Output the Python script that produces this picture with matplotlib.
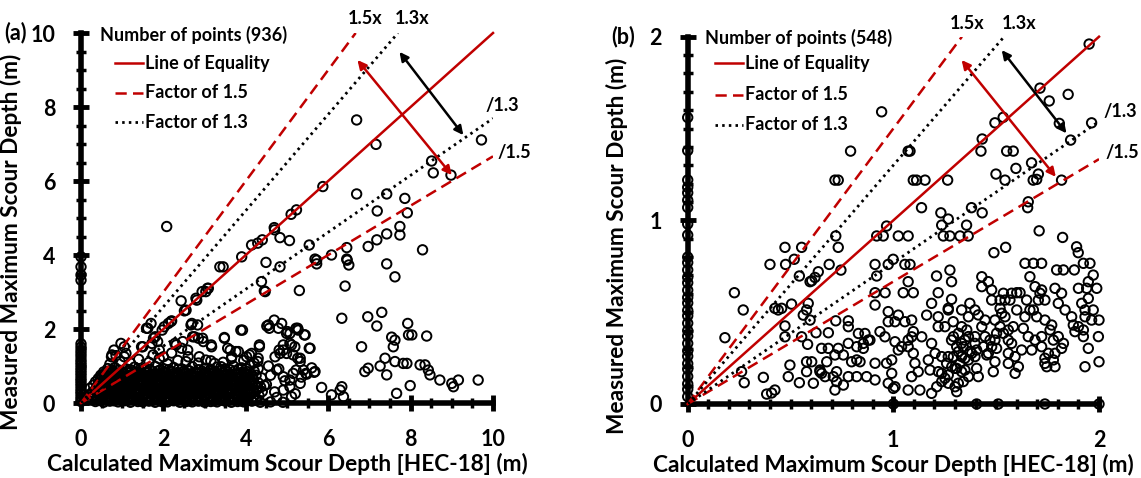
import matplotlib
matplotlib.use('Agg')
import matplotlib.pyplot as plt
from matplotlib.lines import Line2D
from matplotlib.ticker import MultipleLocator

plt.rcParams['font.family'] = ['Lato', 'DejaVu Sans']
plt.rcParams['font.weight'] = 'bold'

RED = '#C00000'

# ---------------- data: panel (a) ----------------
left_count = 936
left_axis_y = [0.04, 0.1, 0.17, 0.25, 0.31, 0.38, 0.46, 0.53, 0.6, 0.66, 0.74, 0.81, 0.88,
               0.95, 1.03, 1.1, 1.17, 1.26, 1.34, 1.42, 1.51, 1.6, 3.32, 3.46, 3.68, 3.95]

left_cluster = [
    (0.35, 0.04), (0.55, 0.02), (0.7, 0.05), (0.9, 0.03), (1.05, 0.06), (1.2, 0.02), (1.38, 0.04),
    (1.5, 0.03), (1.65, 0.05), (1.8, 0.02), (1.95, 0.04), (2.1, 0.03), (2.25, 0.06), (2.4, 0.02),
    (2.55, 0.04), (2.7, 0.03), (2.85, 0.05), (3.0, 0.02), (3.15, 0.04), (3.3, 0.03), (3.5, 0.05),
    (3.65, 0.02), (3.8, 0.04), (3.95, 0.03), (4.15, 0.05), (4.35, 0.02), (4.6, 0.03), (4.9, 0.02),
    (0.25, 0.12), (0.42, 0.14), (0.6, 0.11), (0.75, 0.15), (0.88, 0.12), (1.0, 0.13), (1.12, 0.1),
    (1.27, 0.14), (1.42, 0.12), (1.58, 0.15), (1.72, 0.11), (1.88, 0.13), (2.03, 0.14), (2.18, 0.1),
    (2.32, 0.13), (2.48, 0.15), (2.62, 0.11), (2.78, 0.14), (2.93, 0.12), (3.08, 0.15), (3.22, 0.11),
    (3.4, 0.13), (3.58, 0.14), (3.72, 0.1), (3.9, 0.13), (4.05, 0.15), (4.25, 0.12),
    (0.2, 0.22), (0.33, 0.2), (0.5, 0.23), (0.66, 0.19), (0.8, 0.24), (0.95, 0.21), (1.08, 0.23),
    (1.22, 0.2), (1.35, 0.24), (1.5, 0.21), (1.63, 0.19), (1.77, 0.23), (1.92, 0.2), (2.07, 0.24),
    (2.22, 0.21), (2.37, 0.19), (2.52, 0.23), (2.68, 0.2), (2.83, 0.24), (2.98, 0.21), (3.13, 0.19),
    (3.3, 0.23), (3.45, 0.2), (3.63, 0.24), (3.8, 0.21), (3.97, 0.19), (4.12, 0.23), (4.32, 0.2),
    (0.28, 0.3), (0.45, 0.32), (0.58, 0.28), (0.72, 0.31), (0.86, 0.33), (1.0, 0.29), (1.15, 0.32),
    (1.3, 0.28), (1.45, 0.31), (1.6, 0.33), (1.74, 0.29), (1.86, 0.32), (2.0, 0.3), (2.14, 0.33),
    (2.29, 0.28), (2.44, 0.31), (2.59, 0.33), (2.74, 0.29), (2.9, 0.32), (3.05, 0.28), (3.2, 0.31),
    (3.36, 0.33), (3.52, 0.29), (3.68, 0.32), (3.85, 0.3), (4.02, 0.33), (4.2, 0.29), (4.4, 0.31),
    (0.22, 0.4), (0.38, 0.38), (0.52, 0.41), (0.68, 0.37), (0.82, 0.42), (0.97, 0.39), (1.1, 0.37),
    (1.25, 0.41), (1.4, 0.38), (1.55, 0.42), (1.68, 0.39), (1.83, 0.37), (1.97, 0.41), (2.12, 0.38),
    (2.26, 0.42), (2.4, 0.39), (2.56, 0.37), (2.71, 0.41), (2.86, 0.38), (3.02, 0.42), (3.17, 0.39),
    (3.33, 0.37), (3.48, 0.41), (3.62, 0.38), (3.78, 0.42), (3.93, 0.39), (4.1, 0.37), (4.28, 0.41),
    (0.3, 0.48), (0.47, 0.5), (0.62, 0.46), (0.77, 0.49), (0.9, 0.51), (1.04, 0.47), (1.18, 0.5),
    (1.33, 0.46), (1.47, 0.49), (1.62, 0.51), (1.76, 0.47), (1.9, 0.5), (2.05, 0.46), (2.2, 0.49),
    (2.35, 0.51), (2.5, 0.47), (2.65, 0.5), (2.8, 0.46), (2.95, 0.49), (3.1, 0.51), (3.26, 0.47),
    (3.42, 0.5), (3.57, 0.46), (3.72, 0.49), (3.88, 0.51), (4.04, 0.47), (4.22, 0.5), (4.45, 0.47),
    (0.35, 0.57), (0.5, 0.55), (0.65, 0.59), (0.8, 0.56), (0.94, 0.6), (1.08, 0.57), (1.22, 0.55),
    (1.37, 0.59), (1.52, 0.56), (1.66, 0.6), (1.8, 0.57), (1.95, 0.55), (2.1, 0.59), (2.24, 0.56),
    (2.38, 0.6), (2.54, 0.57), (2.7, 0.55), (2.84, 0.59), (3.0, 0.56), (3.15, 0.6), (3.3, 0.57),
    (3.46, 0.55), (3.62, 0.59), (3.77, 0.56), (3.92, 0.6), (4.08, 0.57), (4.3, 0.55),
    (0.42, 0.66), (0.57, 0.68), (0.72, 0.64), (0.86, 0.67), (1.0, 0.69), (1.14, 0.65), (1.29, 0.68),
    (1.43, 0.64), (1.58, 0.67), (1.72, 0.69), (1.86, 0.65), (2.0, 0.68), (2.16, 0.64), (2.31, 0.67),
    (2.46, 0.69), (2.6, 0.65), (2.76, 0.68), (2.92, 0.64), (3.07, 0.67), (3.22, 0.69), (3.38, 0.65),
    (3.54, 0.68), (3.7, 0.64), (3.85, 0.67), (4.0, 0.69), (4.18, 0.65), (4.38, 0.68),
    (0.48, 0.75), (0.63, 0.73), (0.78, 0.77), (0.92, 0.74), (1.06, 0.78), (1.2, 0.75), (1.35, 0.73),
    (1.5, 0.77), (1.64, 0.74), (1.78, 0.78), (1.93, 0.75), (2.08, 0.73), (2.22, 0.77), (2.37, 0.74),
    (2.52, 0.78), (2.67, 0.75), (2.82, 0.73), (2.97, 0.77), (3.12, 0.74), (3.28, 0.78), (3.44, 0.75),
    (3.6, 0.73), (3.75, 0.77), (3.9, 0.74), (4.06, 0.78), (4.25, 0.75),
    (0.55, 0.84), (0.7, 0.86), (0.85, 0.82), (1.0, 0.85), (1.15, 0.87), (1.3, 0.83), (1.45, 0.86),
    (1.6, 0.82), (1.74, 0.85), (1.88, 0.87), (2.03, 0.83), (2.18, 0.86), (2.33, 0.82), (2.48, 0.85),
    (2.63, 0.87), (2.78, 0.83), (2.94, 0.86), (3.1, 0.82), (3.25, 0.85), (3.4, 0.87), (3.56, 0.83),
    (3.72, 0.86), (3.88, 0.82), (4.03, 0.85), (4.2, 0.87),
    (0.65, 0.93), (0.82, 0.96), (1.1, 0.92), (1.3, 0.97), (1.55, 0.94), (1.8, 0.99), (2.0, 0.93),
    (2.25, 0.96), (2.45, 0.92), (2.7, 0.98), (3.0, 0.94), (3.3, 0.97), (3.5, 0.92), (3.7, 1.0),
    (3.9, 0.95), (4.1, 1.02), (4.3, 0.93),
    (0.7, 1.05), (0.95, 1.12), (1.2, 1.08), (1.4, 1.18), (1.65, 1.1), (1.9, 1.2), (2.1, 1.06),
    (2.35, 1.15), (2.6, 1.25), (2.85, 1.08), (3.15, 1.14), (3.45, 1.1), (3.65, 1.2), (3.95, 1.15),
    (4.2, 1.08), (1.05, 1.25), (1.75, 1.3), (2.2, 1.35), (2.55, 1.12), (0.85, 1.28),
    (4.5, 0.5), (4.6, 0.75), (4.7, 0.3), (4.8, 0.92), (4.95, 0.6), (5.2, 0.25), (5.35, 0.7),
    (5.6, 0.95), (4.55, 1.0), (4.75, 0.15),
]

left_cluster_extra = [
    (0.45, 0.07), (0.62, 0.08), (0.8, 0.06), (0.97, 0.08), (1.13, 0.07), (1.3, 0.09), (1.46, 0.06),
    (1.57, 0.08), (1.73, 0.07), (1.87, 0.09), (2.03, 0.06), (2.17, 0.08), (2.33, 0.07), (2.48, 0.09),
    (2.63, 0.06), (2.78, 0.08), (2.93, 0.07), (3.08, 0.09), (3.23, 0.06), (3.4, 0.08), (3.58, 0.07),
    (3.73, 0.09), (3.88, 0.06), (4.05, 0.08), (4.25, 0.07),
    (0.32, 0.17), (0.5, 0.16), (0.67, 0.18), (0.82, 0.17), (0.94, 0.16), (1.06, 0.18), (1.2, 0.17),
    (1.35, 0.16), (1.5, 0.18), (1.65, 0.17), (1.8, 0.16), (1.95, 0.18), (2.1, 0.17), (2.25, 0.16),
    (2.4, 0.18), (2.55, 0.17), (2.7, 0.16), (2.86, 0.18), (3.0, 0.17), (3.15, 0.16), (3.32, 0.18),
    (3.5, 0.17), (3.66, 0.16), (3.83, 0.18), (4.0, 0.17), (4.18, 0.16),
    (0.26, 0.26), (0.4, 0.27), (0.52, 0.25), (0.65, 0.26), (0.79, 0.27), (0.93, 0.25), (1.07, 0.26),
    (1.21, 0.27), (1.37, 0.25), (1.52, 0.26), (1.67, 0.27), (1.82, 0.25), (1.96, 0.26), (2.1, 0.27),
    (2.24, 0.25), (2.37, 0.26), (2.52, 0.27), (2.66, 0.25), (2.81, 0.26), (2.96, 0.27), (3.11, 0.25),
    (3.27, 0.26), (3.43, 0.27), (3.6, 0.25), (3.77, 0.26), (3.93, 0.27), (4.1, 0.25),
    (0.35, 0.35), (0.5, 0.36), (0.64, 0.34), (0.78, 0.35), (0.92, 0.36), (1.05, 0.34), (1.2, 0.35),
    (1.36, 0.36), (1.51, 0.34), (1.65, 0.35), (1.8, 0.36), (1.93, 0.34), (2.07, 0.35), (2.22, 0.36),
    (2.36, 0.34), (2.5, 0.35), (2.65, 0.36), (2.8, 0.34), (2.95, 0.35), (3.1, 0.36), (3.26, 0.34),
    (3.42, 0.35), (3.58, 0.36), (3.75, 0.34), (3.9, 0.35), (4.06, 0.36), (4.25, 0.34),
    (0.4, 0.44), (0.55, 0.45), (0.7, 0.43), (0.85, 0.44), (0.99, 0.45), (1.13, 0.43), (1.28, 0.44),
    (1.43, 0.45), (1.58, 0.43), (1.72, 0.44), (1.87, 0.45), (2.01, 0.43), (2.16, 0.44), (2.3, 0.45),
    (2.46, 0.43), (2.61, 0.44), (2.76, 0.45), (2.91, 0.43), (3.06, 0.44), (3.22, 0.45), (3.38, 0.43),
    (3.53, 0.44), (3.68, 0.45), (3.85, 0.43), (4.0, 0.44), (4.16, 0.45), (4.36, 0.43),
    (0.42, 0.53), (0.57, 0.52), (0.72, 0.54), (0.86, 0.53), (1.0, 0.52), (1.15, 0.54), (1.3, 0.53),
    (1.44, 0.52), (1.59, 0.54), (1.73, 0.53), (1.88, 0.52), (2.02, 0.54), (2.17, 0.53), (2.31, 0.52),
    (2.46, 0.54), (2.61, 0.53), (2.77, 0.52), (2.92, 0.54), (3.07, 0.53), (3.22, 0.52), (3.38, 0.54),
    (3.54, 0.53), (3.69, 0.52), (3.84, 0.54), (4.0, 0.53), (4.15, 0.52),
    (0.47, 0.62), (0.6, 0.63), (0.75, 0.61), (0.89, 0.62), (1.03, 0.63), (1.17, 0.61), (1.32, 0.62),
    (1.47, 0.63), (1.62, 0.61), (1.76, 0.62), (1.9, 0.63), (2.05, 0.61), (2.2, 0.62), (2.35, 0.63),
    (2.5, 0.61), (2.65, 0.62), (2.8, 0.63), (2.96, 0.61), (3.12, 0.62), (3.27, 0.63), (3.43, 0.61),
    (3.58, 0.62), (3.74, 0.63), (3.9, 0.61), (4.12, 0.62),
    (0.52, 0.71), (0.67, 0.7), (0.81, 0.72), (0.95, 0.71), (1.09, 0.7), (1.24, 0.72), (1.39, 0.71),
    (1.54, 0.7), (1.68, 0.72), (1.82, 0.71), (1.97, 0.7), (2.12, 0.72), (2.27, 0.71), (2.42, 0.7),
    (2.57, 0.72), (2.72, 0.71), (2.88, 0.7), (3.03, 0.72), (3.18, 0.71), (3.34, 0.7), (3.5, 0.72),
    (3.66, 0.71), (3.82, 0.7), (3.97, 0.72), (4.15, 0.71),
    (0.58, 0.8), (0.74, 0.81), (0.88, 0.79), (1.03, 0.8), (1.18, 0.81), (1.33, 0.79), (1.48, 0.8),
    (1.62, 0.81), (1.77, 0.79), (1.92, 0.8), (2.06, 0.81), (2.21, 0.79), (2.36, 0.8), (2.51, 0.81),
    (2.66, 0.79), (2.82, 0.8), (2.98, 0.81), (3.14, 0.79), (3.3, 0.8), (3.47, 0.81), (3.63, 0.79),
    (3.8, 0.8), (3.96, 0.81), (4.12, 0.79),
    (0.75, 0.9), (0.92, 0.89), (1.2, 0.9), (1.42, 0.89), (1.67, 0.91), (1.92, 0.89), (2.12, 0.9),
    (2.36, 0.91), (2.58, 0.89), (2.85, 0.9), (3.15, 0.91), (3.42, 0.89), (3.62, 0.9), (3.82, 0.91),
    (4.02, 0.92),
]

left_scatter = [
    (6.69, 7.65), (7.16, 6.99), (9.72, 7.11), (8.51, 6.54), (8.55, 6.22), (8.98, 6.16), (5.87, 5.85),
    (6.69, 5.65), (7.42, 5.65), (7.86, 5.53), (7.19, 5.19), (7.92, 5.14), (5.23, 5.22), (5.10, 5.10),
    (2.08, 4.77), (4.69, 4.74), (4.70, 4.68), (4.83, 4.47), (5.06, 4.39), (4.40, 4.41), (4.29, 4.32),
    (4.14, 4.27), (5.54, 4.27), (7.74, 4.77), (7.74, 4.54), (7.42, 4.57), (7.18, 4.41), (6.97, 4.23),
    (6.45, 4.20), (8.29, 4.14), (3.90, 3.95), (6.08, 4.00), (5.68, 3.89), (6.45, 3.89),
    (4.49, 3.80), (3.37, 3.68), (3.45, 3.68), (4.83, 3.68), (5.72, 3.86), (5.72, 3.76),
    (6.46, 3.86), (6.5, 3.73), (7.42, 3.76), (7.62, 3.41), (6.41, 3.16), (5.30, 3.04), (4.38, 3.28),
    (4.47, 3.01), (3.03, 3.01), (3.09, 3.10), (2.81, 2.78), (2.43, 2.76), (2.51, 2.49), (2.69, 2.15),
    (2.20, 2.22), (2.12, 2.15), (1.70, 2.15), (1.59, 2.02), (1.97, 1.97), (3.92, 1.97), (3.48, 1.75),
    (4.55, 2.11), (4.69, 2.24), (4.79, 2.02), (4.87, 2.15), (5.26, 2.02), (5.44, 1.84), (5.07, 1.88),
    (6.33, 2.29), (6.96, 2.33), (7.30, 2.45), (7.18, 2.08), (7.93, 2.15), (7.95, 1.84), (8.03, 1.84),
    (8.39, 1.81), (7.54, 1.78), (7.62, 1.70), (7.58, 1.52), (6.81, 1.52), (5.54, 1.48), (5.11, 1.57),
    (4.91, 1.57), (4.99, 1.34), (4.81, 1.43), (5.32, 1.21), (4.33, 1.57), (4.14, 1.34), (4.02, 1.25),
    (4.30, 1.21), (4.71, 1.25), (3.62, 1.43), (3.82, 1.39), (3.66, 1.25), (3.17, 1.52), (2.97, 1.66),
    (2.85, 1.75),
    (6.97, 0.94), (6.89, 0.85), (7.26, 1.0), (7.38, 1.21), (7.42, 0.76), (7.62, 1.12), (7.82, 1.07),
    (7.91, 1.07), (8.23, 1.03), (8.35, 1.03), (8.43, 0.89), (8.47, 0.76), (8.71, 0.62), (9.0, 0.53),
    (9.04, 0.44), (9.16, 0.62), (9.64, 0.62), (7.99, 0.47), (7.66, 0.26), (5.84, 0.42), (6.08, 0.22),
    (6.29, 0.35), (6.33, 0.44), (6.37, 0.17),
    (4.51, 2.08), (4.57, 2.02), (4.99, 1.88), (5.07, 1.61), (5.19, 1.52), (5.32, 1.12), (5.40, 0.89),
    (5.56, 1.48), (5.27, 1.97), (4.91, 1.43), (5.15, 1.30), (4.83, 1.34), (4.75, 0.89), (4.91, 0.71),
    (5.07, 0.62), (5.15, 0.80), (5.32, 0.53), (5.68, 0.85), (5.48, 0.78), (4.91, 0.35), (5.07, 0.44),
    (5.11, 0.17),
    (0.97, 1.61), (0.75, 1.30), (1.09, 1.34), (1.50, 1.52), (1.62, 2.02), (1.76, 1.75), (2.02, 2.06),
    (2.18, 2.20), (1.86, 1.66), (2.31, 1.57), (2.47, 1.66), (2.67, 2.11), (2.71, 1.79), (2.95, 1.75),
    (3.16, 1.57), (3.48, 1.77), (3.88, 1.97), (4.33, 1.52), (5.01, 1.93), (5.22, 2.02), (5.42, 1.84),
    (5.26, 1.21), (5.22, 0.89), (5.46, 0.80), (5.66, 0.83), (3.56, 1.48), (3.76, 1.39), (4.09, 1.30),
    (4.29, 1.12), (2.83, 2.11), (2.94, 3.01), (3.07, 3.10), (2.55, 2.51), (2.79, 2.83), (4.45, 3.03),
    (0.74, 1.25), (0.8, 1.43), (1.05, 1.52), (1.47, 1.52), (1.80, 1.79), (1.72, 1.61), (2.28, 1.61),
    (2.44, 1.48), (1.9, 1.43), (2.0, 1.25), (2.59, 1.43), (2.75, 1.79), (2.87, 1.25), (3.03, 1.16),
    (3.24, 1.07), (3.40, 0.98),
]

# ---------------- data: panel (b) ----------------
right_count = 548
right_axis_y = [0.04, 0.08, 0.11, 0.15, 0.19, 0.22, 0.26, 0.29, 0.33, 0.37, 0.4, 0.44, 0.48, 0.51,
                0.55, 0.58, 0.62, 0.66, 0.69, 0.73, 0.77, 0.8, 0.92, 0.98, 1.07, 1.11, 1.15, 1.18,
                1.22, 1.38, 1.56]
right_bottom_x = [1.0, 1.405, 1.51, 1.737, 2.0]

right_scatter = [
    (1.952, 1.96), (1.713, 1.72), (1.758, 1.65), (1.85, 1.686), (1.807, 1.528), (1.964, 1.531),
    (1.862, 1.437), (1.534, 1.561), (1.494, 1.531), (1.432, 1.443), (1.426, 1.377), (1.551, 1.377),
    (1.583, 1.377), (0.943, 1.591), (0.792, 1.377), (1.072, 1.377), (1.081, 1.377), (0.716, 1.219),
    (0.732, 1.219), (1.097, 1.219), (1.113, 1.219), (1.154, 1.219), (1.264, 1.219), (1.596, 1.283),
    (1.672, 1.313), (1.499, 1.252), (1.543, 1.219), (1.705, 1.252), (1.68, 1.219), (1.697, 1.223),
    (1.818, 1.219), (1.137, 1.069), (1.231, 1.041), (1.38, 1.069), (1.432, 1.041), (1.656, 1.101),
    (1.653, 1.069),
    (1.267, 1.007), (1.235, 0.974), (1.243, 0.915), (1.275, 0.915), (1.324, 0.915), (1.364, 0.915),
    (1.356, 0.974), (1.709, 0.943), (1.823, 0.907), (1.891, 0.856), (1.899, 0.824), (1.546, 0.853),
    (1.489, 0.824), (0.967, 0.969), (0.919, 0.915), (0.951, 0.915), (1.024, 0.915), (1.072, 0.915),
    (0.72, 0.915), (0.732, 0.853), (0.745, 0.729), (0.688, 0.76), (0.473, 0.853), (0.554, 0.853),
    (0.518, 0.788), (0.476, 0.76), (0.40, 0.76), (0.543, 0.697), (0.603, 0.671), (0.619, 0.689),
    (0.635, 0.72), (0.595, 0.666), (0.911, 0.76), (0.975, 0.76), (0.999, 0.788), (1.056, 0.76),
    (1.081, 0.76), (0.919, 0.697), (1.072, 0.666), (0.911, 0.606), (0.96, 0.606), (1.048, 0.606),
    (1.097, 0.606), (0.911, 0.539), (0.227, 0.606), (0.27, 0.512), (0.181, 0.361), (0.262, 0.176),
    (0.275, 0.116), (0.368, 0.145), (0.384, 0.054), (0.424, 0.076), (0.408, 0.06), (0.424, 0.521),
    (0.457, 0.521), (0.44, 0.512), (0.505, 0.544), (0.586, 0.548), (0.578, 0.512), (0.562, 0.484),
    (0.595, 0.457), (0.473, 0.425), (0.473, 0.366), (0.554, 0.366), (0.583, 0.325), (0.624, 0.388),
    (0.684, 0.388), (0.72, 0.453), (0.781, 0.453), (0.781, 0.421), (0.83, 0.384), (0.862, 0.384),
    (0.886, 0.348), (0.854, 0.33),
    (0.935, 0.394), (0.975, 0.503), (0.975, 0.448), (1.008, 0.448), (1.024, 0.484), (1.056, 0.448),
    (1.089, 0.457), (1.097, 0.394), (1.008, 0.339), (1.04, 0.312), (1.072, 0.348), (1.138, 0.366),
    (1.186, 0.33), (1.162, 0.484), (1.218, 0.421), (1.251, 0.421), (1.218, 0.475), (1.267, 0.521),
    (1.291, 0.448), (1.283, 0.348), (1.308, 0.312), (1.34, 0.312), (1.332, 0.512), (1.372, 0.548),
    (1.275, 0.729), (1.283, 0.666), (1.21, 0.697), (1.218, 0.606), (1.283, 0.57), (1.186, 0.548),
    (1.267, 0.512),
    (0.651, 0.303), (0.684, 0.303), (0.732, 0.303), (0.781, 0.33), (0.822, 0.312), (0.854, 0.303),
    (0.878, 0.348), (0.757, 0.267), (0.716, 0.267), (0.822, 0.24), (0.797, 0.23), (0.838, 0.23),
    (0.676, 0.23), (0.578, 0.23), (0.603, 0.23), (0.578, 0.176), (0.643, 0.176), (0.668, 0.149),
    (0.708, 0.149), (0.724, 0.176), (0.724, 0.122), (0.757, 0.103), (0.716, 0.076), (0.651, 0.167),
    (0.643, 0.185), (0.497, 0.212), (0.489, 0.149), (0.543, 0.116), (0.611, 0.113), (0.781, 0.149),
    (0.822, 0.149), (0.87, 0.149), (0.911, 0.131), (0.911, 0.222), (0.967, 0.222), (0.992, 0.24),
    (0.992, 0.167), (0.975, 0.113), (1.008, 0.094), (1.0, 0.085), (1.072, 0.076), (1.129, 0.076),
    (1.186, 0.058), (1.089, 0.149), (1.121, 0.176), (1.105, 0.222), (1.097, 0.276), (1.072, 0.312),
    (1.024, 0.294), (1.089, 0.366), (0.959, 0.366),
    (1.235, 0.167), (1.259, 0.221), (1.267, 0.258), (1.292, 0.258), (1.308, 0.194), (1.324, 0.221),
    (1.332, 0.258), (1.348, 0.249), (1.365, 0.24), (1.381, 0.276), (1.405, 0.294), (1.397, 0.367),
    (1.446, 0.367), (1.47, 0.348), (1.502, 0.385), (1.519, 0.421), (1.543, 0.475), (1.559, 0.403),
    (1.575, 0.33), (1.559, 0.276), (1.592, 0.258), (1.559, 0.221), (1.608, 0.203), (1.592, 0.167),
    (1.494, 0.23), (1.486, 0.176), (1.413, 0.149), (1.34, 0.122), (1.316, 0.113), (1.3, 0.094),
    (1.308, 0.067), (1.267, 0.113), (1.251, 0.14), (1.235, 0.122), (1.178, 0.185), (1.17, 0.24),
    (1.203, 0.276), (1.292, 0.367), (1.348, 0.348), (1.357, 0.403), (1.478, 0.566), (1.519, 0.566),
    (1.543, 0.566), (1.567, 0.566), (1.535, 0.603), (1.575, 0.603), (1.616, 0.606), (1.6, 0.606),
    (1.648, 0.566), (1.664, 0.512), (1.681, 0.512), (1.705, 0.566), (1.713, 0.603), (1.721, 0.621),
    (1.737, 0.566), (1.697, 0.475), (1.64, 0.475), (1.6, 0.512), (1.583, 0.421), (1.632, 0.412),
    (1.656, 0.367), (1.689, 0.348), (1.673, 0.294), (1.624, 0.294), (1.721, 0.367), (1.721, 0.312),
    (1.737, 0.249), (1.754, 0.276), (1.778, 0.24), (1.786, 0.276), (1.778, 0.348), (1.762, 0.403),
    (1.77, 0.43), (1.802, 0.367), (1.827, 0.33), (1.818, 0.303), (1.737, 0.221), (1.746, 0.203),
    (1.786, 0.203), (1.835, 0.512), (1.802, 0.548), (1.818, 0.603), (1.786, 0.63), (1.794, 0.73),
    (1.827, 0.73), (1.88, 0.73), (1.924, 0.766), (1.956, 0.766), (1.972, 0.702), (1.948, 0.666),
    (1.9, 0.63), (1.94, 0.63), (1.989, 0.63), (1.948, 0.575), (1.916, 0.548), (1.932, 0.512),
    (1.972, 0.512), (2.0, 0.457), (1.964, 0.457), (1.932, 0.475), (1.867, 0.475), (1.875, 0.43),
    (1.9, 0.421), (1.924, 0.403), (1.883, 0.394), (1.924, 0.367), (1.997, 0.367), (1.948, 0.303),
    (1.932, 0.203), (2.0, 0.23), (1.64, 0.766), (1.681, 0.766), (1.721, 0.766), (1.664, 0.693),
    (1.689, 0.639), (1.43, 0.639), (1.43, 0.693), (1.462, 0.666), (1.478, 0.621), (1.519, 0.521),
    (1.527, 0.494), (1.494, 0.457), (1.535, 0.385), (1.559, 0.348), (1.502, 0.303), (1.397, 0.258),
    (1.454, 0.267), (1.348, 0.185), (1.405, 0.194), (1.365, 0.149), (1.332, 0.176), (1.284, 0.203),
    (1.267, 0.158), (1.219, 0.176), (1.3, 0.194), (1.211, 0.094), (1.235, 0.258), (1.397, 0.512),
    (1.413, 0.485), (1.446, 0.457), (1.43, 0.421), (1.332, 0.421), (1.365, 0.475), (1.737, 0.457),
    (1.316, 0.385), (1.365, 0.367), (1.332, 0.33), (1.397, 0.33), (1.373, 0.285), (1.316, 0.285),
    (1.438, 0.312), (1.462, 0.276), (1.478, 0.312), (1.494, 0.348),
]

factors = [1.5, 1.3]
legend_labels = ['Line of Equality', 'Factor of 1.5', 'Factor of 1.3']

# ---------------- figure ----------------
W, H = 1141, 478
fig = plt.figure(figsize=(W / 100, H / 100), dpi=100)


def fx(px):
    return px / W


def fy(py):
    return 1 - py / H


axL = fig.add_axes([fx(81), fy(403), fx(493) - fx(81), fy(33) - fy(403)])
axR = fig.add_axes([fx(687.7), fy(404), fx(1099) - fx(687.7), fy(36.7) - fy(404)])

FS_TICK = 15.5
FS_LABEL = 16.3
FS_SMALL = 13
FS_PANEL = 15.5


def style(ax, lim, major, minor):
    ax.set_xlim(0, lim)
    ax.set_ylim(0, lim)
    for s in ['top', 'right']:
        ax.spines[s].set_visible(False)
    for s in ['left', 'bottom']:
        ax.spines[s].set_linewidth(4)
    ax.xaxis.set_major_locator(MultipleLocator(major))
    ax.yaxis.set_major_locator(MultipleLocator(major))
    ax.xaxis.set_minor_locator(MultipleLocator(minor))
    ax.yaxis.set_minor_locator(MultipleLocator(minor))
    ax.tick_params(which='major', direction='inout', length=11, width=3.5, pad=13,
                   labelsize=FS_TICK)
    ax.tick_params(which='minor', direction='inout', length=6.5, width=2.5)
    for lab in ax.get_xticklabels() + ax.get_yticklabels():
        lab.set_fontweight('bold')
    ax.patch.set_alpha(0)


def draw_lines(ax, lim):
    f15, f13 = factors
    ax.plot([0, lim], [0, lim], color=RED, lw=1.8, zorder=4, clip_on=False)
    ax.plot([0, lim / f15], [0, lim], color=RED, lw=1.8, dashes=(4.5, 2.5), zorder=4)
    ax.plot([0, lim], [0, lim / f15], color=RED, lw=1.8, dashes=(4.5, 2.5), zorder=4)
    ax.plot([0, lim / f13], [0, lim], color='black', lw=2.0, dashes=(0.9, 1.5), zorder=4)
    ax.plot([0, lim], [0, lim / f13], color='black', lw=2.0, dashes=(0.9, 1.5), zorder=4)


def points(ax, xs, ys):
    ax.scatter(xs, ys, s=46, facecolors='none', edgecolors='black', linewidths=1.4,
               clip_on=False, zorder=3)


def legend(ax, title_px, title_py, handle_px, rows_py, count):
    fig.text(fx(title_px), fy(title_py), f'Number of points ({count})', fontsize=FS_SMALL,
             fontweight='bold', ha='left', va='center')
    styles = [dict(color=RED, lw=1.8), dict(color=RED, lw=1.8, dashes=(4.5, 2.5)),
              dict(color='black', lw=2.0, dashes=(0.9, 1.5))]
    for st, lab, py in zip(styles, legend_labels, rows_py):
        fig.add_artist(Line2D([fx(handle_px), fx(handle_px + 28)], [fy(py), fy(py)],
                              transform=fig.transFigure, **st))
        fig.text(fx(handle_px + 30), fy(py), lab, fontsize=FS_SMALL, fontweight='bold',
                 ha='left', va='center')


def arrows(ax, red_ends, black_ends):
    for (p, q), col in [(red_ends, RED), (black_ends, 'black')]:
        ax.annotate('', xy=p, xytext=q,
                    arrowprops=dict(arrowstyle='<|-|>', color=col, lw=1.8, mutation_scale=13,
                                    shrinkA=0, shrinkB=0), zorder=5)


def labels(ax, ylab_x, ylab_y):
    ax.set_xlabel('Calculated Maximum Scour Depth [HEC-18] (m)', fontsize=FS_LABEL,
                  fontweight='bold', labelpad=2)
    ax.set_ylabel('Measured Maximum Scour Depth (m)', fontsize=FS_LABEL, fontweight='bold')
    ax.yaxis.set_label_coords(ylab_x, ylab_y)


# panel (a)
style(axL, 10, 2, 0.5)
draw_lines(axL, 10)
points(axL, [0] * len(left_axis_y), left_axis_y)
points(axL, [p[0] for p in left_cluster], [p[1] for p in left_cluster])
points(axL, [p[0] for p in left_cluster_extra], [p[1] for p in left_cluster_extra])
points(axL, [p[0] for p in left_scatter], [p[1] for p in left_scatter])
arrows(axL, ((6.71, 9.27), (9.0, 6.16)), ((7.73, 9.49), (9.28, 7.24)))
for txt, x, y, ha in [('1.5x', 6.9, 10.4, 'center'), ('1.3x', 8.03, 10.4, 'center'),
                      ('/1.3', 9.81, 8.03, 'left'), ('/1.5', 10.1, 6.78, 'left')]:
    axL.text(x, y, txt, fontsize=FS_SMALL, fontweight='bold', ha=ha, va='center', clip_on=False)
labels(axL, -0.143, 0.435)
legend(axL, 100, 35, 115, [63, 93, 122], left_count)
fig.text(fx(4), fy(33), '(a)', fontsize=FS_PANEL, fontweight='bold', ha='left', va='center')

# panel (b)
style(axR, 2, 1, 0.1)
draw_lines(axR, 2)
points(axR, [0] * len(right_axis_y), right_axis_y)
points(axR, right_bottom_x, [0] * len(right_bottom_x))
points(axR, [p[0] for p in right_scatter], [p[1] for p in right_scatter])
arrows(axR, ((1.332, 1.873), (1.79, 1.237)), ((1.527, 1.927), (1.842, 1.474)))
for txt, x, y, ha in [('1.5x', 1.36, 2.074, 'center'), ('1.3x', 1.613, 2.074, 'center'),
                      ('/1.3', 2.02, 1.59, 'left'), ('/1.5', 2.03, 1.372, 'left')]:
    axR.text(x, y, txt, fontsize=FS_SMALL, fontweight='bold', ha=ha, va='center', clip_on=False)
labels(axR, -0.145, 0.43)
legend(axR, 705, 38, 715, [63, 95, 125], right_count)
fig.text(fx(611), fy(37), '(b)', fontsize=FS_PANEL, fontweight='bold', ha='left', va='center')

fig.savefig('out.png', dpi=100)
